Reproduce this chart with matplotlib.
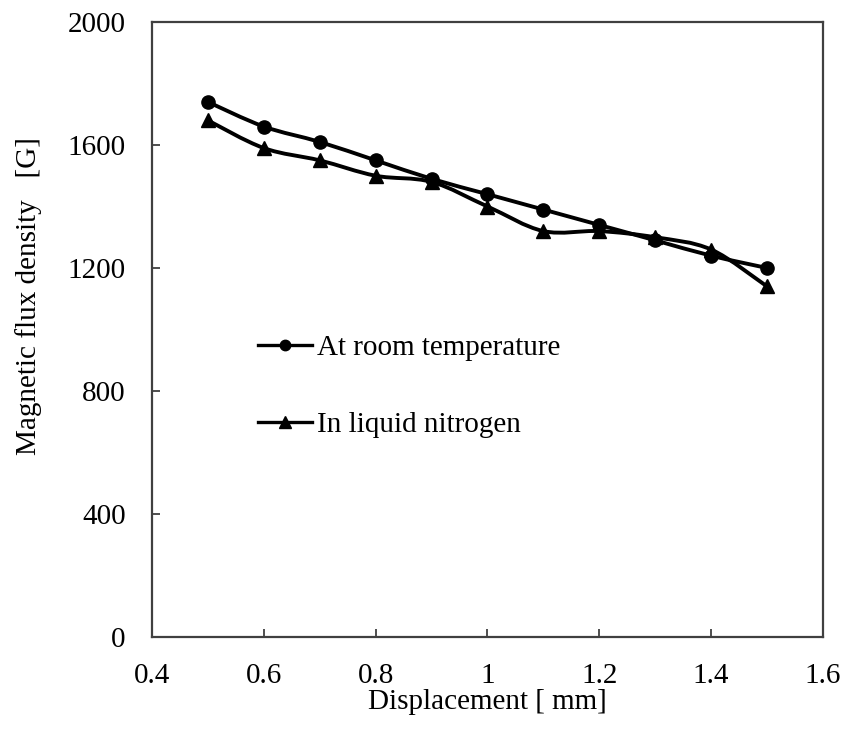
import numpy as np
import matplotlib
matplotlib.use("Agg")
import matplotlib.pyplot as plt
from matplotlib.path import Path
from matplotlib.patches import PathPatch
from matplotlib.lines import Line2D

plt.rcParams['font.family'] = ['Liberation Serif', 'DejaVu Serif']

displacement = [0.5, 0.6, 0.7, 0.8, 0.9, 1.0, 1.1, 1.2, 1.3, 1.4, 1.5]
room_temp = [1740, 1660, 1610, 1550, 1490, 1440, 1390, 1340, 1290, 1240, 1200]
liquid_n2 = [1680, 1590, 1550, 1500, 1480, 1400, 1320, 1320, 1300, 1260, 1140]
series_labels = ["At room temperature", "In liquid nitrogen"]
xticks = [0.4, 0.6, 0.8, 1.0, 1.2, 1.4, 1.6]
xtick_labels = ["0.4", "0.6", "0.8", "1", "1.2", "1.4", "1.6"]
yticks = [0, 400, 800, 1200, 1600, 2000]


def smooth_path(x, y):
    pts = np.column_stack([x, y]).astype(float)
    n = len(pts)
    verts = [pts[0]]
    codes = [Path.MOVETO]
    for i in range(n - 1):
        p0 = pts[i - 1] if i > 0 else pts[i]
        p1 = pts[i]
        p2 = pts[i + 1]
        p3 = pts[i + 2] if i + 2 < n else pts[i + 1]
        c1 = p1 + (p2 - p0) / 6.0
        c2 = p2 - (p3 - p1) / 6.0
        verts += [c1, c2, p2]
        codes += [Path.CURVE4] * 3
    return Path(verts, codes)


fig = plt.figure(figsize=(8.45, 7.33), dpi=100)
ax = fig.add_axes([152 / 845, 1 - 637 / 733, 671 / 845, 615 / 733])

fs = 21
for yv, mk in [(room_temp, 'o'), (liquid_n2, '^')]:
    ax.add_patch(PathPatch(smooth_path(displacement, yv), facecolor='none',
                           edgecolor='black', lw=2.8, zorder=2))
    ax.plot(displacement, yv, linestyle='none', marker=mk, color='black',
            markersize=9.5, zorder=3)

handles = [Line2D([], [], color='black', lw=2.4, marker='o', markersize=7.5),
           Line2D([], [], color='black', lw=2.4, marker='^', markersize=8)]
leg = ax.legend(handles, series_labels, loc='upper left',
                bbox_to_anchor=(0.158, 0.492), frameon=False, fontsize=fs,
                handlelength=1.85, handletextpad=0.17, labelspacing=1.74,
                borderaxespad=0, borderpad=0)

ax.set_xlim(0.4, 1.6)
ax.set_ylim(0, 2000)
ax.set_xticks(xticks)
ax.set_xticklabels(xtick_labels)
ax.set_yticks(yticks)
ax.tick_params(direction='in', length=6, width=1.3, color='#404040',
               labelsize=fs, colors='black')
ax.tick_params(axis='x', pad=19)
ax.tick_params(axis='y', pad=19)
for s in ax.spines.values():
    s.set_color('#404040')
    s.set_linewidth(1.6)

ax.set_xlabel("Displacement [ mm]", fontsize=fs, labelpad=0)
ax.set_ylabel("Magnetic flux density   [G]", fontsize=fs)
ax.yaxis.set_label_coords(-0.164, 0.554)

fig.savefig("out.png", dpi=100)
